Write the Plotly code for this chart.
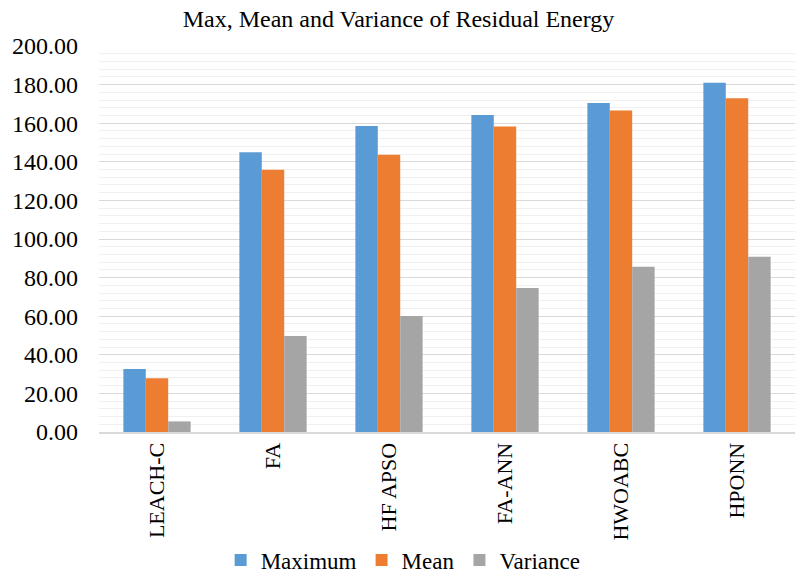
import plotly.graph_objects as go

# Residual energy statistics per clustering protocol
categories = ["LEACH-C", "FA", "HF APSO", "FA-ANN", "HWOABC", "HPONN"]
maximum = [32.7, 145.0, 158.5, 164.3, 170.5, 180.9]
mean = [27.9, 135.9, 143.7, 158.3, 166.6, 172.9]
variance = [5.5, 49.8, 60.1, 74.6, 85.6, 90.8]

series = [
    ("Maximum", maximum, "#5b9bd5"),
    ("Mean", mean, "#ed7d31"),
    ("Variance", variance, "#a5a5a5"),
]

serif = "Liberation Serif"

fig = go.Figure()
for name, values, color in series:
    fig.add_trace(go.Bar(
        x=categories, y=values, name=name,
        marker=dict(color=color, line=dict(width=0)),
    ))

fig.update_layout(
    width=797, height=574,
    margin=dict(l=99, r=2, t=46, b=142, autoexpand=False),
    paper_bgcolor="white", plot_bgcolor="white",
    barmode="group", bargap=0.42, bargroupgap=0,
    font=dict(family=serif, color="#000000"),
    title=dict(
        text="Max, Mean and Variance of Residual Energy",
        x=0.5, xanchor="center", y=0.968, yanchor="middle",
        font=dict(size=24, family=serif, color="#000000"),
    ),
    legend=dict(
        orientation="h", x=0.437, xanchor="center",
        yref="paper", y=-0.332, yanchor="middle",
        font=dict(size=23, family=serif, color="#000000"),
        traceorder="normal", itemwidth=30,
        tracegroupgap=0, bgcolor="rgba(0,0,0,0)",
    ),
    showlegend=True,
)

fig.update_yaxes(
    range=[0, 200], dtick=20, tickformat=".2f",
    tickfont=dict(size=24, family=serif, color="#000000"),
    showgrid=True, gridcolor="#d9d9d9", gridwidth=1,
    minor=dict(dtick=4, showgrid=True, gridcolor="#f0f0f0", gridwidth=1),
    zeroline=False, showline=False, ticks="",
    ticklabelstandoff=20, automargin=False,
)
fig.update_xaxes(
    tickangle=-90, tickfont=dict(size=22, family=serif, color="#000000"),
    showline=True, linecolor="#d9d9d9", linewidth=2, ticks="",
    ticklabelstandoff=0, automargin=False,
)

fig.write_html("out.html")
